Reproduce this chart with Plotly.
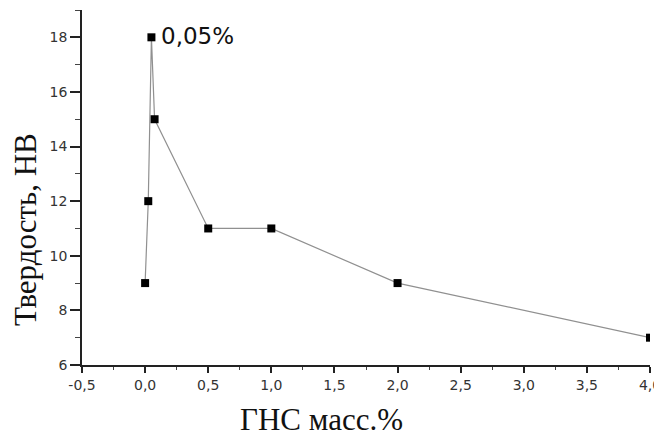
import plotly.graph_objects as go

x_vals = [0.0, 0.025, 0.05, 0.075, 0.5, 1.0, 2.0, 4.0]
hardness = [9, 12, 18, 15, 11, 11, 9, 7]

x_ticks = [-0.5, 0.0, 0.5, 1.0, 1.5, 2.0, 2.5, 3.0, 3.5, 4.0]
x_tick_labels = ["-0,5", "0,0", "0,5", "1,0", "1,5", "2,0", "2,5", "3,0", "3,5", "4,0"]
y_ticks = [6, 8, 10, 12, 14, 16, 18]

peak_label = "0,05%"
x_title = "ГНС масс.%"
y_title = "Твердость, НВ"

# page has a default 8px body margin; plot area in page pixels: x 82..650, y 10..365
fig = go.Figure()
fig.add_trace(go.Scatter(
    x=x_vals, y=hardness, mode="lines+markers",
    line=dict(color="#909090", width=1.2),
    marker=dict(symbol="square", size=8, color="black"),
    cliponaxis=True, showlegend=False,
))

fig.add_annotation(
    x=x_vals[2], y=hardness[2], text=peak_label, showarrow=False,
    xanchor="left", yanchor="middle", xshift=8, yshift=1,
    font=dict(family="DejaVu Sans", size=23, color="#111"),
)
title_font = dict(family="Liberation Serif, Times New Roman", size=31, color="#111")
fig.add_annotation(
    xref="paper", yref="paper", x=(321 - 82) / 568, y=-(419 - 365) / 355,
    text=x_title, showarrow=False, xanchor="center", yanchor="middle", font=title_font,
)
fig.add_annotation(
    xref="paper", yref="paper", x=-(82 - 25) / 568, y=(365 - 230) / 355,
    text=y_title, showarrow=False, xanchor="center", yanchor="middle", textangle=-90,
    font=title_font, borderpad=0,
)

fig.update_layout(
    width=654, height=429,
    margin=dict(l=74, r=12, t=2, b=72),
    paper_bgcolor="white", plot_bgcolor="white",
    font=dict(family="DejaVu Sans, Liberation Sans, Arial", color="#333", size=14),
)
fig.update_xaxes(
    range=[-0.5, 4.0], tickvals=x_ticks, ticktext=x_tick_labels, automargin=False,
    showline=True, linecolor="#222", linewidth=1.5, showgrid=False, zeroline=False,
    ticks="outside", ticklen=6, tickwidth=1.5, tickcolor="#222",
    minor=dict(ticks="outside", dtick=0.25, tick0=0, ticklen=3, tickwidth=1, tickcolor="#444", showgrid=False),
    tickfont=dict(size=14),
)
fig.update_yaxes(
    range=[6, 19], tickvals=y_ticks, automargin=False,
    showline=True, linecolor="#222", linewidth=1.5, showgrid=False, zeroline=False,
    ticks="outside", ticklen=10, tickwidth=1.5, tickcolor="#222",
    minor=dict(ticks="outside", dtick=1, tick0=0, ticklen=5, tickwidth=1, tickcolor="#444", showgrid=False),
    tickfont=dict(size=14),
)

fig.write_html("out.html")
